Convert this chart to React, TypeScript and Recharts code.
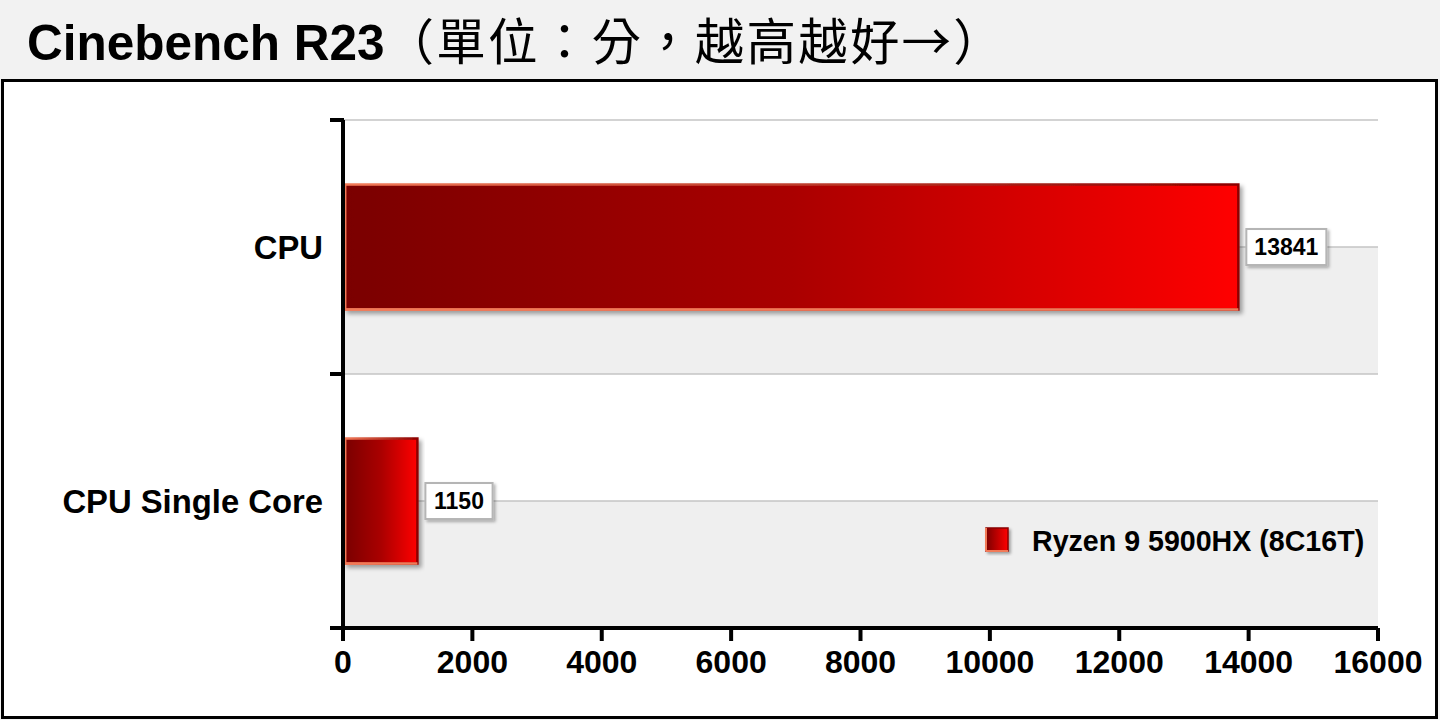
import { BarChart, Bar, XAxis, YAxis, CartesianGrid, Legend, LabelList } from 'recharts'

const categories = ['CPU', 'CPU Single Core']
const scores = [13841, 1150]
const seriesName = 'Ryzen 9 5900HX (8C16T)'
const xTicks = [0, 2000, 4000, 6000, 8000, 10000, 12000, 14000, 16000]

const data = categories.map((name, i) => ({ name, score: scores[i] }))

const FONT = '"Liberation Sans", Arial, "Noto Sans CJK TC", sans-serif'

// grid lines every half category: boundaries and centres
const gridLines = ({ offset }: any) => {
  const steps = categories.length * 2
  return Array.from({ length: steps + 1 }, (_, i) => offset.top + (i * offset.height) / steps)
}

function CategoryTick(props: any) {
  const { x, y, payload } = props
  const half = payload.offset ?? props.height / categories.length / 2
  const ax = x + 20
  return (
    <g>
      <line x1={ax - 13} x2={ax + 1} y1={y - half} y2={y - half} stroke="#000" strokeWidth={4} />
      <line x1={ax - 13} x2={ax + 1} y1={y + half} y2={y + half} stroke="#000" strokeWidth={4} />
      <text x={x} y={y} dy="0.355em" textAnchor="end" fontSize={32.8} fontWeight="bold" fill="#000">
        {payload.value}
      </text>
    </g>
  )
}

function BarShape(props: any) {
  const { x, y, width, height } = props
  if (!width || width <= 0) return null
  return (
    <g filter="url(#dropShadow)">
      <rect x={x + 2} y={y} width={width - 2} height={height} fill="url(#barFill)" stroke="url(#barEdge)" strokeWidth={2.5} />
      <line x1={x + 2} x2={x + width} y1={y + height} y2={y + height} stroke="#f27a58" strokeWidth={2.5} />
      <line x1={x + 2} x2={x + 2} y1={y} y2={y + height} stroke="#f27a58" strokeWidth={2.5} />
    </g>
  )
}

function ValueBox(props: any) {
  const vb = props.viewBox ?? props
  const { x, y, width, height } = vb
  const text = String(props.value)
  const w = text.length * 12.8 + 16
  const bx = x + width + 8
  const cy = y + height / 2
  return (
    <g>
      <rect x={bx} y={cy - 18} width={w} height={36} fill="#fff" stroke="#b5b5b5" strokeWidth={2} filter="url(#boxShadow)" />
      <text x={bx + w / 2} y={cy} dy="0.355em" textAnchor="middle" fontSize={23} fontWeight="bold" fill="#000">
        {text}
      </text>
    </g>
  )
}

function LegendContent(props: any) {
  const item = props.payload?.[0]
  return (
    <div style={{ display: 'flex', alignItems: 'center', fontFamily: FONT }}>
      <svg width={30} height={30} style={{ display: 'block' }}>
        <defs>
          <linearGradient id="legendFill" x1="0" y1="0" x2="1" y2="0">
            <stop offset="0%" stopColor="#7a0000" />
            <stop offset="100%" stopColor="#ff0000" />
          </linearGradient>
          <filter id="legendShadow" x="-20%" y="-20%" width="160%" height="160%">
            <feDropShadow dx="2" dy="2" stdDeviation="1.5" floodColor="#000" floodOpacity="0.35" />
          </filter>
        </defs>
        <g filter="url(#legendShadow)">
          <rect x={2} y={2} width={22} height={23} fill="url(#legendFill)" stroke="#8b0000" strokeWidth={1.5} />
          <line x1={2} x2={2} y1={2} y2={25} stroke="#f27a58" strokeWidth={2} />
          <line x1={2} x2={24} y1={25} y2={25} stroke="#f27a58" strokeWidth={2} />
        </g>
      </svg>
      <span style={{ marginLeft: 18, fontSize: 28.6, fontWeight: 'bold', lineHeight: 1, color: '#000' }}>
        {item?.value ?? seriesName}
      </span>
    </div>
  )
}

export default function App() {
  return (
    <div style={{ position: 'relative', width: 1440, height: 720, background: '#f2f2f2', overflow: 'hidden', fontFamily: FONT }}>
      <style>{'body{margin:0}'}</style>
      <div style={{ position: 'absolute', left: 27, top: 14, fontSize: 49.5, lineHeight: 1, whiteSpace: 'nowrap', color: '#000' }}>
        <span style={{ fontWeight: 'bold', fontFamily: '"Liberation Sans", Arial, sans-serif' }}>Cinebench R23</span>
        <span style={{ fontWeight: 400, fontFamily: '"Noto Sans CJK TC", sans-serif', letterSpacing: 2.2 }}>（單位：分，越高越好→）</span>
      </div>
      <div
        style={{
          position: 'absolute',
          left: 1,
          top: 79,
          width: 1437,
          height: 640,
          border: '3px solid #000',
          boxSizing: 'border-box',
          background: '#fff',
        }}
      />
      <div style={{ position: 'absolute', left: 0, top: 0 }}>
        <BarChart
          width={1440}
          height={720}
          data={data}
          layout="vertical"
          barCategoryGap="25.4%"
          margin={{ top: 120, right: 62, bottom: 42, left: 0 }}
        >
          <defs>
            <linearGradient id="barFill" x1="0" y1="0" x2="1" y2="0">
              <stop offset="0%" stopColor="#7a0000" />
              <stop offset="50%" stopColor="#aa0000" />
              <stop offset="100%" stopColor="#ff0000" />
            </linearGradient>
            <linearGradient id="barEdge" x1="0" y1="0" x2="1" y2="0">
              <stop offset="0%" stopColor="#f27a58" />
              <stop offset="100%" stopColor="#8b0000" />
            </linearGradient>
            <filter id="dropShadow" x="-5%" y="-10%" width="115%" height="130%">
              <feDropShadow dx="3" dy="3" stdDeviation="2" floodColor="#000" floodOpacity="0.35" />
            </filter>
            <filter id="boxShadow" x="-20%" y="-20%" width="150%" height="160%">
              <feDropShadow dx="2" dy="2" stdDeviation="1.5" floodColor="#000" floodOpacity="0.3" />
            </filter>
          </defs>
          <CartesianGrid
            vertical={false}
            stroke="#c4c4c4"
            strokeWidth={1.5}
            horizontalCoordinatesGenerator={gridLines}
            horizontalFill={['#ffffff', '#efefef']}
          />
          <XAxis
            type="number"
            domain={[0, 16000]}
            ticks={xTicks}
            interval={0}
            height={50}
            tickSize={13}
            tickMargin={9}
            axisLine={{ stroke: '#000', strokeWidth: 4 }}
            tickLine={{ stroke: '#000', strokeWidth: 4 }}
            tick={{ fontSize: 32, fontWeight: 'bold', fill: '#000' }}
          />
          <YAxis
            type="category"
            dataKey="name"
            width={343}
            interval={0}
            tickSize={13}
            tickMargin={7}
            tickLine={false}
            axisLine={{ stroke: '#000', strokeWidth: 4 }}
            tick={<CategoryTick />}
          />
          <Legend
            layout="horizontal"
            verticalAlign="middle"
            content={<LegendContent />}
            wrapperStyle={{ position: 'absolute', left: 984, top: 526, width: 'auto', height: 'auto' }}
          />
          <Bar dataKey="score" name={seriesName} shape={<BarShape />} isAnimationActive={false}>
            <LabelList dataKey="score" content={<ValueBox />} />
          </Bar>
        </BarChart>
      </div>
    </div>
  )
}
